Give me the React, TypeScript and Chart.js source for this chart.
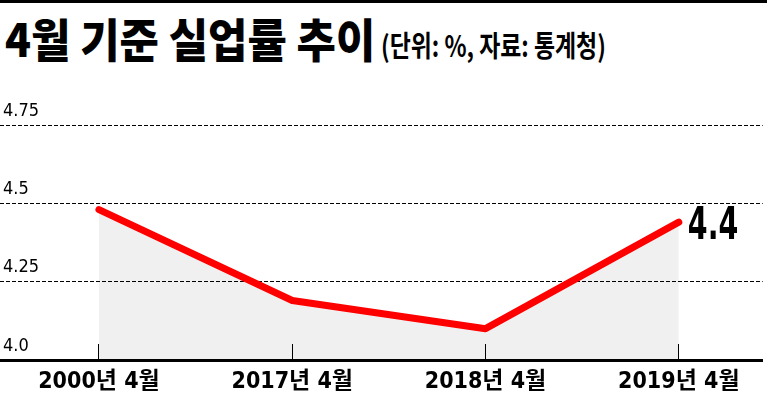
import React, { useEffect, useRef } from "react";
import { Chart, registerables } from "chart.js";

Chart.register(...registerables);

const categories = ["2000년 4월", "2017년 4월", "2018년 4월", "2019년 4월"];
const rates = [4.48, 4.19, 4.1, 4.44];
const yTickValues = [4.0, 4.25, 4.5, 4.75];
const yTickLabels = ["4.0", "4.25", "4.5", "4.75"];
const titleMain = "4월 기준 실업률 추이";
const titleSub = "(단위: %, 자료: 통계청)";

const condensedFont = "'DejaVu Sans Condensed', 'Liberation Sans Narrow', 'Noto Sans CJK KR', sans-serif";

const lastValueLabel = {
  id: "lastValueLabel",
  afterDatasetsDraw(chart: any) {
    const meta = chart.getDatasetMeta(0);
    const pts = meta.data;
    if (!pts || !pts.length) return;
    const p = pts[pts.length - 1];
    const ctx = chart.ctx;
    const text = rates[rates.length - 1].toFixed(1);
    ctx.save();
    ctx.translate(p.x + 9, p.y + 17);
    ctx.scale(0.72, 1);
    ctx.font = "bold 44px " + condensedFont;
    ctx.fillStyle = "#000";
    ctx.textAlign = "left";
    ctx.textBaseline = "alphabetic";
    ctx.fillText(text, 0, 0);
    ctx.restore();
  },
};

export default function App() {
  const ref = useRef<HTMLCanvasElement | null>(null);

  useEffect(() => {
    if (!ref.current) return;
    const chart = new Chart(ref.current, {
      type: "line",
      data: {
        datasets: [
          {
            data: rates.map((v, i) => ({ x: i, y: v })),
            borderColor: "#ff0000",
            borderWidth: 7,
            borderCapStyle: "round",
            borderJoinStyle: "round",
            pointRadius: 0,
            pointHoverRadius: 0,
            tension: 0,
            fill: "start",
            backgroundColor: "rgba(0,0,0,0.06)",
          },
        ],
      },
      options: {
        responsive: false,
        animation: false,
        devicePixelRatio: 1,
        layout: { padding: { left: -6, right: 4, top: 125, bottom: -24 } },
        plugins: {
          legend: { display: false },
          tooltip: { enabled: false },
          title: { display: false },
        },
        scales: {
          x: {
            type: "linear",
            min: -0.512,
            max: 3.434,
            afterBuildTicks: (s: any) => {
              s.ticks = categories.map((_, i) => ({ value: i }));
            },
            ticks: {
              callback: (v: any) => categories[v] ?? "",
              color: "#000",
              font: { family: condensedFont, size: 23, weight: "bold", lineHeight: 1 },
              padding: 27,
              autoSkip: false,
              maxRotation: 0,
            },
            grid: {
              drawOnChartArea: false,
              drawTicks: true,
              tickLength: -16,
              tickColor: "#000",
              tickWidth: 1,
              lineWidth: 1,
            },
            border: { display: true, color: "#000", width: 3 },
          },
          y: {
            type: "linear",
            min: 4.0,
            max: 4.75,
            afterBuildTicks: (s: any) => {
              s.ticks = yTickValues.map((v) => ({ value: v }));
            },
            ticks: {
              mirror: true,
              padding: 3,
              labelOffset: -14,
              color: "#000",
              font: { family: condensedFont, size: 18 },
              callback: (v: any) => {
                const i = yTickValues.findIndex((t) => Math.abs(t - v) < 1e-6);
                return i >= 0 ? yTickLabels[i] : "";
              },
            },
            grid: { drawTicks: false, color: "#000", lineWidth: 1 },
            border: { display: false, dash: [4, 2] },
          },
        },
      },
      plugins: [lastValueLabel],
    });
    return () => chart.destroy();
  }, []);

  return (
    <div style={{ position: "absolute", left: 0, top: 0, width: 767, height: 397, background: "#fff", overflow: "hidden" }}>
      <div style={{ position: "absolute", left: 0, top: 0, width: 767, height: 3, background: "#000" }} />
      <div
        style={{
          position: "absolute",
          left: 5,
          top: 14,
          whiteSpace: "nowrap",
          fontFamily: "'Noto Sans CJK KR', sans-serif",
          fontWeight: 900,
          fontSize: 46,
          lineHeight: 1,
          color: "#000",
          transformOrigin: "left top",
          transform: "scaleX(0.93)",
        }}
      >
        {titleMain}
      </div>
      <div
        style={{
          position: "absolute",
          left: 381,
          top: 30,
          whiteSpace: "nowrap",
          fontFamily: "'Noto Sans CJK KR', sans-serif",
          fontWeight: 700,
          fontSize: 29,
          lineHeight: 1,
          color: "#000",
          transformOrigin: "left top",
          transform: "scaleX(0.79)",
        }}
      >
        {titleSub}
      </div>
      <canvas ref={ref} width={767} height={397} style={{ position: "absolute", left: 0, top: 0 }} />
    </div>
  );
}
